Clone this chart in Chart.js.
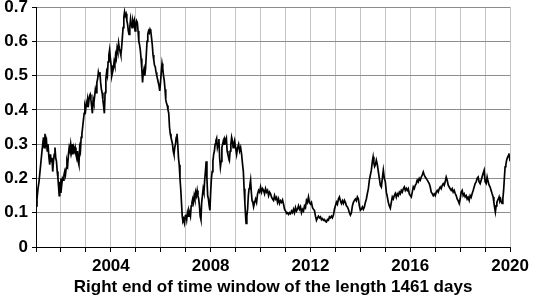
<!DOCTYPE html>
<html lang="en">
<head>
<meta charset="UTF-8">
<title>Right end of time window</title>
<script src="https://cdn.jsdelivr.net/npm/chart.js"></script>
<style>
    html, body { margin: 0; padding: 0; background: #fff; }
    #wrap { width: 533px; height: 298px; }
</style>
</head>
<body>
<div id="wrap"><canvas id="chart" width="533" height="298"></canvas></div>
<script>
// right end of window (decimal year) and value, one line per year
const years = [
    2001.00,2001.04,2001.08,2001.12,2001.16,2001.20,2001.24,2001.27,2001.30,2001.33,2001.36,2001.39,2001.42,2001.45,2001.48,2001.52,2001.55,2001.58,2001.61,2001.64,2001.67,2001.70,2001.73,2001.76,2001.79,2001.82,2001.85,2001.88,2001.91,2001.93,2001.95,2001.97,
    2002.00,2002.03,2002.06,2002.09,2002.12,2002.15,2002.18,2002.21,2002.24,2002.27,2002.30,2002.33,2002.36,2002.39,2002.42,2002.45,2002.48,2002.51,2002.54,2002.57,2002.60,2002.63,2002.66,2002.69,2002.72,2002.75,2002.78,2002.81,2002.84,2002.87,2002.90,2002.93,2002.96,2002.99,
    2003.02,2003.05,2003.08,2003.11,2003.14,2003.17,2003.20,2003.23,2003.26,2003.29,2003.32,2003.35,2003.38,2003.41,2003.44,2003.47,2003.50,2003.53,2003.56,2003.59,2003.62,2003.65,2003.68,2003.71,2003.74,2003.77,2003.80,2003.83,2003.86,2003.89,2003.92,2003.95,2003.98,
    2004.01,2004.04,2004.07,2004.10,2004.13,2004.16,2004.19,2004.22,2004.25,2004.28,2004.31,2004.34,2004.37,2004.40,2004.43,2004.46,2004.49,2004.52,2004.55,2004.58,2004.61,2004.64,2004.67,2004.70,2004.73,2004.76,2004.79,2004.82,2004.85,2004.88,2004.91,2004.94,2004.97,
    2005.00,2005.03,2005.06,2005.09,2005.12,2005.15,2005.18,2005.21,2005.24,2005.27,2005.30,2005.33,2005.36,2005.39,2005.42,2005.45,2005.48,2005.51,2005.54,2005.57,2005.60,2005.63,2005.66,2005.69,2005.72,2005.75,2005.78,2005.81,2005.84,2005.87,2005.90,2005.93,2005.96,2005.99,
    2006.02,2006.05,2006.08,2006.11,2006.14,2006.17,2006.20,2006.23,2006.26,2006.29,2006.32,2006.35,2006.38,2006.41,2006.44,2006.47,2006.50,2006.53,2006.56,2006.59,2006.62,2006.65,2006.68,2006.71,2006.74,2006.77,2006.80,2006.83,2006.86,2006.89,2006.92,2006.95,2006.98,
    2007.01,2007.04,2007.07,2007.10,2007.13,2007.16,2007.19,2007.22,2007.25,2007.28,2007.31,2007.34,2007.37,2007.40,2007.43,2007.46,2007.49,2007.52,2007.55,2007.58,2007.61,2007.64,2007.67,2007.70,2007.73,2007.76,2007.79,2007.82,2007.85,2007.88,2007.91,2007.94,2007.97,
    2008.00,2008.03,2008.06,2008.09,2008.12,2008.15,2008.18,2008.21,2008.24,2008.27,2008.30,2008.33,2008.36,2008.39,2008.42,2008.45,2008.48,2008.51,2008.54,2008.57,2008.60,2008.63,2008.66,2008.69,2008.72,2008.75,2008.78,2008.81,2008.84,2008.87,2008.90,2008.93,2008.96,
    2009.00,2009.04,2009.08,2009.12,2009.16,2009.20,2009.24,2009.28,2009.31,2009.34,2009.37,2009.40,2009.42,2009.45,2009.48,2009.51,2009.54,2009.57,2009.60,2009.63,2009.66,2009.69,2009.72,2009.76,2009.80,2009.84,2009.88,2009.92,2009.96,
    2010.00,2010.04,2010.08,2010.12,2010.16,2010.20,2010.24,2010.28,2010.32,2010.36,2010.40,2010.44,2010.48,2010.52,2010.56,2010.60,2010.64,2010.68,2010.72,2010.76,2010.80,2010.84,2010.88,2010.92,2010.96,
    2011.00,2011.04,2011.08,2011.12,2011.16,2011.20,2011.24,2011.28,2011.32,2011.36,2011.40,2011.44,2011.48,2011.52,2011.56,2011.60,2011.64,2011.68,2011.72,2011.76,2011.80,2011.84,2011.88,2011.92,2011.96,
    2012.00,2012.04,2012.08,2012.12,2012.16,2012.20,2012.24,2012.28,2012.32,2012.36,2012.40,2012.44,2012.48,2012.52,2012.56,2012.60,2012.64,2012.68,2012.72,2012.76,2012.80,2012.84,2012.88,2012.92,2012.96,
    2013.00,2013.04,2013.08,2013.12,2013.16,2013.20,2013.24,2013.28,2013.32,2013.36,2013.40,2013.44,2013.48,2013.52,2013.56,2013.60,2013.64,2013.68,2013.72,2013.76,2013.80,2013.84,2013.88,2013.92,2013.96,
    2014.00,2014.04,2014.08,2014.12,2014.16,2014.20,2014.24,2014.28,2014.32,2014.36,2014.40,2014.44,2014.48,2014.51,2014.54,2014.57,2014.60,2014.64,2014.68,2014.72,2014.76,2014.80,2014.84,2014.88,2014.92,2014.96,
    2015.00,2015.04,2015.08,2015.12,2015.16,2015.20,2015.24,2015.28,2015.32,2015.36,2015.40,2015.44,2015.48,2015.52,2015.56,2015.60,2015.64,2015.68,2015.72,2015.76,2015.80,2015.84,2015.88,2015.92,2015.96,
    2016.00,2016.04,2016.08,2016.12,2016.16,2016.20,2016.24,2016.28,2016.32,2016.36,2016.40,2016.44,2016.48,2016.52,2016.56,2016.60,2016.64,2016.68,2016.72,2016.76,2016.80,2016.84,2016.88,2016.92,2016.96,
    2017.00,2017.04,2017.08,2017.12,2017.16,2017.20,2017.24,2017.28,2017.32,2017.36,2017.40,2017.44,2017.48,2017.52,2017.56,2017.60,2017.64,2017.68,2017.72,2017.76,2017.80,2017.84,2017.88,2017.92,2017.96,
    2018.00,2018.04,2018.08,2018.12,2018.16,2018.20,2018.24,2018.28,2018.32,2018.36,2018.40,2018.44,2018.48,2018.52,2018.56,2018.60,2018.64,2018.68,2018.72,2018.76,2018.80,2018.84,2018.88,2018.92,2018.96,
    2019.00,2019.04,2019.08,2019.12,2019.16,2019.20,2019.24,2019.28,2019.32,2019.35,2019.38,2019.41,2019.44,2019.47,2019.50,2019.53,2019.56,2019.59,2019.62,2019.65,2019.68,2019.71,2019.74,2019.77,2019.80,2019.83,2019.86,2019.89,2019.92,2019.95,2019.98,2020.00
];
const values = [
    0.12,0.14,0.17,0.19,0.22,0.25,0.28,0.30,0.32,0.29,0.33,0.30,0.31,0.28,0.30,0.26,0.24,0.27,0.25,0.26,0.22,0.25,0.27,0.29,0.26,0.25,0.22,0.20,0.17,0.15,0.19,0.16,
    0.20,0.18,0.20,0.195,0.21,0.22,0.21,0.23,0.25,0.24,0.27,0.29,0.28,0.30,0.28,0.30,0.27,0.29,0.28,0.29,0.27,0.26,0.28,0.25,0.24,0.29,0.28,0.32,0.33,0.35,0.37,0.39,0.41,0.40,
    0.42,0.41,0.43,0.42,0.44,0.445,0.43,0.41,0.39,0.43,0.42,0.44,0.46,0.45,0.48,0.49,0.51,0.50,0.51,0.48,0.46,0.45,0.43,0.41,0.39,0.45,0.49,0.51,0.50,0.54,0.56,0.575,0.55,
    0.53,0.50,0.51,0.52,0.54,0.53,0.56,0.55,0.58,0.57,0.595,0.58,0.57,0.56,0.58,0.61,0.64,0.67,0.686,0.675,0.68,0.66,0.65,0.63,0.62,0.64,0.665,0.65,0.64,0.66,0.65,0.66,0.63,
    0.65,0.66,0.655,0.63,0.60,0.59,0.575,0.55,0.52,0.48,0.51,0.52,0.50,0.52,0.56,0.60,0.62,0.63,0.625,0.635,0.63,0.61,0.59,0.56,0.545,0.53,0.525,0.51,0.50,0.49,0.48,0.47,0.455,0.48,
    0.51,0.535,0.52,0.50,0.485,0.46,0.43,0.42,0.413,0.40,0.39,0.35,0.33,0.32,0.31,0.30,0.28,0.27,0.29,0.30,0.32,0.33,0.30,0.26,0.24,0.20,0.17,0.13,0.09,0.075,0.08,0.07,0.09,
    0.095,0.08,0.10,0.09,0.107,0.10,0.09,0.12,0.13,0.14,0.13,0.15,0.14,0.16,0.15,0.165,0.15,0.14,0.12,0.09,0.08,0.13,0.15,0.17,0.16,0.195,0.22,0.25,0.20,0.15,0.14,0.12,0.107,
    0.16,0.20,0.22,0.25,0.27,0.28,0.30,0.31,0.317,0.29,0.30,0.315,0.26,0.233,0.25,0.29,0.30,0.31,0.30,0.315,0.31,0.317,0.28,0.27,0.26,0.253,0.28,0.30,0.32,0.31,0.29,0.30,0.31,
    0.29,0.27,0.29,0.30,0.28,0.29,0.27,0.24,0.22,0.17,0.13,0.09,0.069,0.09,0.11,0.15,0.17,0.18,0.195,0.16,0.135,0.13,0.117,0.13,0.14,0.13,0.155,0.165,0.16,
    0.175,0.16,0.17,0.165,0.155,0.17,0.16,0.165,0.15,0.16,0.155,0.145,0.14,0.136,0.15,0.14,0.145,0.13,0.14,0.127,0.135,0.13,0.137,0.125,0.11,
    0.105,0.098,0.10,0.095,0.10,0.097,0.105,0.10,0.11,0.10,0.115,0.105,0.11,0.12,0.11,0.117,0.10,0.11,0.105,0.12,0.115,0.136,0.13,0.146,0.13,
    0.125,0.13,0.115,0.11,0.107,0.09,0.078,0.085,0.09,0.085,0.088,0.08,0.083,0.078,0.08,0.075,0.073,0.08,0.078,0.088,0.085,0.09,0.085,0.093,0.11,
    0.12,0.131,0.125,0.14,0.146,0.135,0.127,0.135,0.127,0.136,0.13,0.12,0.117,0.11,0.10,0.093,0.10,0.12,0.13,0.136,0.14,0.135,0.146,0.14,0.12,
    0.107,0.11,0.117,0.11,0.117,0.13,0.14,0.156,0.17,0.195,0.21,0.224,0.25,0.263,0.245,0.235,0.24,0.253,0.24,0.22,0.20,0.18,0.175,0.20,0.224,0.20,
    0.19,0.16,0.146,0.13,0.12,0.113,0.13,0.146,0.14,0.15,0.156,0.145,0.155,0.15,0.16,0.155,0.165,0.16,0.17,0.175,0.165,0.171,0.165,0.17,0.155,
    0.15,0.146,0.16,0.175,0.17,0.18,0.185,0.195,0.19,0.20,0.195,0.204,0.21,0.219,0.21,0.204,0.20,0.195,0.19,0.185,0.175,0.16,0.156,0.15,0.155,
    0.15,0.16,0.165,0.16,0.17,0.175,0.17,0.18,0.185,0.18,0.19,0.204,0.195,0.18,0.175,0.17,0.165,0.17,0.16,0.165,0.156,0.15,0.14,0.135,0.127,
    0.14,0.16,0.165,0.15,0.155,0.146,0.15,0.14,0.145,0.136,0.15,0.145,0.156,0.165,0.175,0.185,0.19,0.20,0.204,0.19,0.185,0.195,0.205,0.215,0.224,
    0.19,0.185,0.204,0.19,0.18,0.175,0.165,0.155,0.146,0.13,0.115,0.102,0.12,0.13,0.136,0.14,0.146,0.135,0.14,0.13,0.127,0.14,0.165,0.20,0.234,0.24,0.253,0.26,0.265,0.273,0.26,0.25
];

const xMin = 2001, xMax = 2020;
const yMin = 0, yMax = 0.7;
const xLabelEvery = 4;
const titleText = 'Right end of time window of the length 1461 days';

const points = years.map((t, i) => ({ x: t, y: values[i] }));
const boldFont = { family: '"Liberation Sans", Arial, sans-serif', size: 17, weight: 'bold' };

new Chart(document.getElementById('chart'), {
    type: 'line',
    data: {
        datasets: [{
            data: points,
            borderColor: '#000',
            borderWidth: 1.7,
            pointRadius: 0,
            tension: 0
        }]
    },
    options: {
        responsive: false,
        animation: false,
        layout: { padding: { top: 7, right: 20, left: 0, bottom: 0 } },
        plugins: { legend: { display: false }, tooltip: { enabled: false } },
        scales: {
            x: {
                type: 'linear',
                min: xMin,
                max: xMax,
                ticks: {
                    stepSize: 1,
                    autoSkip: false,
                    maxRotation: 0,
                    padding: 4,
                    color: '#000',
                    font: boldFont,
                    callback: v => (Math.round(v) % xLabelEvery === 0 ? String(Math.round(v)) : '')
                },
                grid: { color: '#c4c4c4', tickColor: '#000', tickLength: 5 },
                border: { color: '#000' },
                title: { display: true, text: titleText, color: '#000', font: boldFont, padding: { top: -4, bottom: 0 } },
                afterFit: s => { s.height = 51; }
            },
            y: {
                min: yMin,
                max: yMax,
                ticks: {
                    stepSize: 0.05,
                    padding: 4,
                    color: '#000',
                    font: boldFont,
                    callback: v => {
                        const r = Math.round(v * 100);
                        return r % 10 === 0 ? String(r / 100) : '';
                    }
                },
                grid: {
                    color: c => (Math.round(c.tick.value * 100) % 10 === 0 ? '#8c8c8c' : 'rgba(0,0,0,0)'),
                    tickColor: '#000',
                    tickLength: 4
                },
                border: { color: '#000' },
                afterFit: s => { s.width = 36; s.paddingTop = 0; s.paddingBottom = 0; }
            }
        }
    }
});
</script>
</body>
</html>
